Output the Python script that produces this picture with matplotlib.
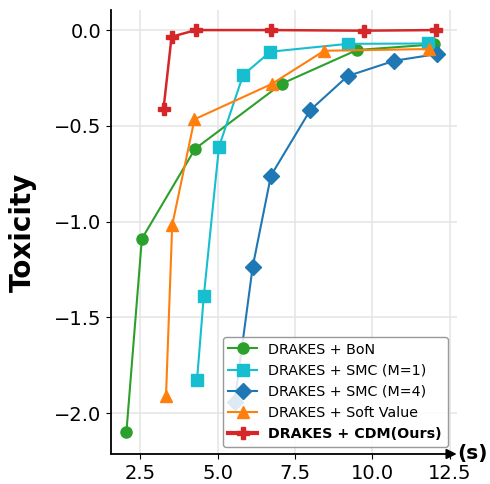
import numpy as np
import matplotlib.pyplot as plt

# time (s) vs toxicity for each method
bon_t = [2.05, 2.55, 4.27, 7.07, 9.5, 11.98]
bon_y = [-2.10, -1.09, -0.62, -0.28, -0.104, -0.075]

smc1_t = [4.33, 4.55, 5.04, 5.82, 6.70, 9.2, 11.78]
smc1_y = [-1.83, -1.39, -0.61, -0.235, -0.113, -0.072, -0.070]

smc4_t = [5.55, 6.13, 6.72, 7.99, 9.2, 10.71, 12.1]
smc4_y = [-1.94, -1.236, -0.76, -0.418, -0.24, -0.16, -0.125]

soft_t = [3.33, 3.53, 4.25, 6.74, 8.44, 11.83]
soft_y = [-1.91, -1.018, -0.466, -0.282, -0.108, -0.099]

cdm_t = [3.25, 3.51, 4.29, 6.72, 9.71, 12.05]
cdm_y = [-0.41, -0.035, 0.0, 0.0, -0.003, 0.0]

fig, ax = plt.subplots(figsize=(4.9, 4.84), dpi=100)

ax.plot(bon_t, bon_y, "-o", color="tab:green", lw=1.5, ms=8, label="DRAKES + BoN")
ax.plot(smc1_t, smc1_y, "-s", color="tab:cyan", lw=1.5, ms=8, label="DRAKES + SMC (M=1)")
ax.plot(smc4_t, smc4_y, "-D", color="tab:blue", lw=1.5, ms=8, label="DRAKES + SMC (M=4)")
ax.plot(soft_t, soft_y, "-^", color="tab:orange", lw=1.5, ms=8, label="DRAKES + Soft Value")
ax.plot(cdm_t, cdm_y, "-P", color="tab:red", lw=1.8, ms=9, label="DRAKES + CDM(Ours)")

ax.set_xlim(1.56, 12.72)
ax.set_ylim(-2.214, 0.104)
ax.set_xticks([2.5, 5.0, 7.5, 10.0, 12.5])
ax.set_yticks([0.0, -0.5, -1.0, -1.5, -2.0])
ax.tick_params(labelsize=14)
ax.grid(True, color="#e6e6e6", lw=1.2)
ax.set_axisbelow(True)

for s in ["top", "right", "bottom"]:
    ax.spines[s].set_visible(False)
ax.spines["left"].set_linewidth(1.3)

# x axis drawn as an arrow
ax.annotate("", xy=(1.0, 0), xytext=(0, 0), xycoords="axes fraction",
            arrowprops=dict(arrowstyle="-|>", color="black", lw=1.3, mutation_scale=15,
                            shrinkA=0, shrinkB=0))
ax.text(1.003, 0, "(s)", transform=ax.transAxes, fontsize=14.5, fontweight="bold",
        va="center", ha="left")

ax.set_ylabel("Toxicity", fontsize=20, fontweight="bold", labelpad=12)

leg = ax.legend(loc="lower right", fontsize=10.3, framealpha=0.85, edgecolor="#888888",
                bbox_to_anchor=(0.995, 0.0))
leg.get_texts()[-1].set_fontweight("bold")
leg.get_lines()[-1].set_linewidth(3)

fig.subplots_adjust(left=0.227, right=0.932, top=0.979, bottom=0.062)
fig.savefig("out.png")
